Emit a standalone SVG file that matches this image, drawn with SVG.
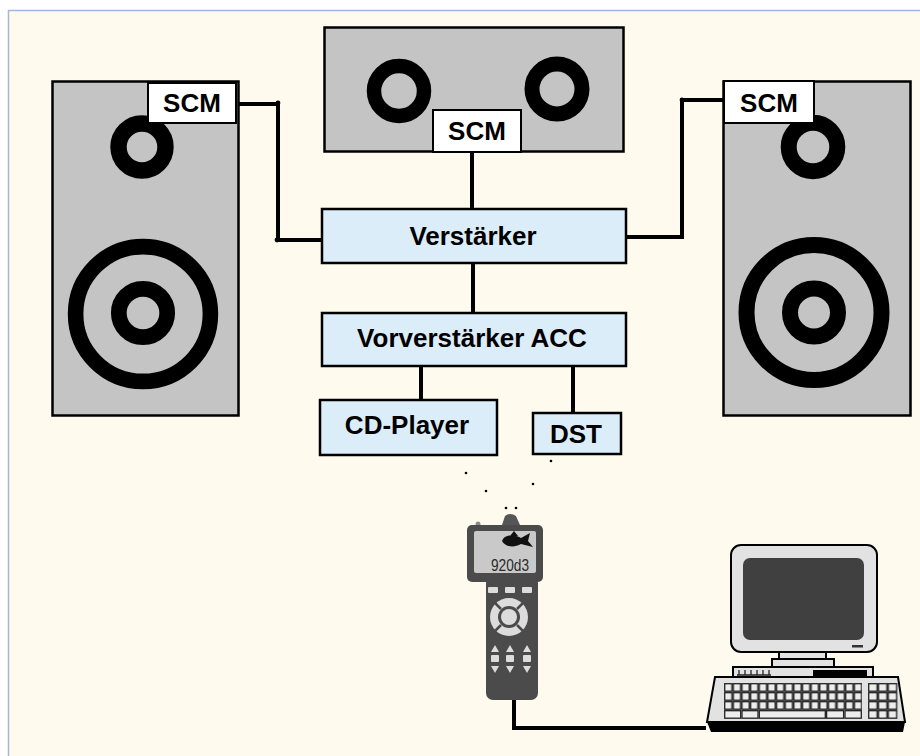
<svg xmlns="http://www.w3.org/2000/svg" width="920" height="756" viewBox="0 0 920 756">
  <defs>
    <style>
      .lbl { font-family: "Liberation Sans", Arial, sans-serif; font-weight: bold; font-size: 26px; fill: #000; text-anchor: middle; }
      .cab { fill: #c4c4c4; stroke: #000; stroke-width: 2.5; }
      .scm { fill: #fff; stroke: #000; stroke-width: 2; }
      .ring { fill: none; stroke: #000; }
      .blk { fill: #dcedfa; stroke: #000; stroke-width: 2.5; }
      .wire { fill: none; stroke: #000; stroke-width: 4; stroke-linejoin: miter; }
      .dot { fill: #000; }
      .lite { fill: #dcdcdc; }
      .pc { fill: #e2e2e2; stroke: #000; stroke-width: 2; }
    </style>
    <pattern id="keys" x="724" y="683" width="8.65" height="9" patternUnits="userSpaceOnUse">
      <rect x="0.7" y="0.7" width="7.2" height="7.5" fill="#ededed" stroke="#222" stroke-width="1.3"/>
    </pattern>
    <pattern id="numkeys" x="868" y="683" width="9.8" height="9" patternUnits="userSpaceOnUse">
      <rect x="0.7" y="0.7" width="8.4" height="7.5" fill="#ededed" stroke="#222" stroke-width="1.3"/>
    </pattern>
  </defs>

  <!-- page and frame -->
  <rect x="0" y="0" width="920" height="756" fill="#fff"/>
  <rect x="8.5" y="10.5" width="930" height="760" fill="#fefbee" stroke="#9fb9dc" stroke-width="1.5"/>

  <!-- connectors -->
  <g id="connectors">
    <polyline class="wire" points="236,104 278,104 278,240 322,240"/>
    <polyline class="wire" points="724,100 682,100 682,237 626,237"/>
    <line class="wire" x1="472" y1="152" x2="472" y2="209"/>
    <line class="wire" x1="473" y1="263" x2="473" y2="313"/>
    <line class="wire" x1="421" y1="366" x2="421" y2="400"/>
    <line class="wire" x1="573" y1="366" x2="573" y2="413"/>
    <polyline class="wire" points="514,700 514,728 706,728"/>
    <circle class="dot" cx="278" cy="103" r="2.4"/>
    <circle class="dot" cx="277" cy="240" r="2.4"/>
    <circle class="dot" cx="682" cy="100" r="2.4"/>
    <!-- infrared path -->
    <circle class="dot" cx="466" cy="473" r="1.3"/>
    <circle class="dot" cx="486" cy="491" r="1.3"/>
    <circle class="dot" cx="506" cy="508" r="1.3"/>
    <circle class="dot" cx="516" cy="508" r="1.3"/>
    <circle class="dot" cx="533" cy="484" r="1.3"/>
    <circle class="dot" cx="551" cy="461" r="1.3"/>
  </g>

  <!-- left speaker -->
  <g id="speaker-left">
    <rect class="cab" x="52.5" y="81.5" width="186" height="334"/>
    <circle class="ring" cx="142" cy="147" r="23.5" stroke-width="16.4"/>
    <circle class="ring" cx="143" cy="314" r="67.4" stroke-width="15.6"/>
    <circle class="ring" cx="143" cy="313" r="24.2" stroke-width="15.7"/>
    <rect class="scm" x="148" y="83" width="88" height="40"/>
    <text class="lbl" x="192" y="112">SCM</text>
  </g>

  <!-- centre speaker -->
  <g id="speaker-centre">
    <rect class="cab" x="324.5" y="27.5" width="299" height="124" stroke-width="5"/>
    <circle class="ring" cx="399" cy="91" r="25" stroke-width="14.5"/>
    <circle class="ring" cx="557" cy="89" r="25" stroke-width="15"/>
    <rect class="scm" x="433" y="110" width="88" height="42"/>
    <text class="lbl" x="477" y="140">SCM</text>
  </g>

  <!-- right speaker -->
  <g id="speaker-right">
    <rect class="cab" x="723.5" y="81.5" width="187" height="334"/>
    <circle class="ring" cx="813" cy="147" r="24.3" stroke-width="16"/>
    <circle class="ring" cx="814" cy="312.5" r="67.5" stroke-width="16"/>
    <circle class="ring" cx="814" cy="312.5" r="24" stroke-width="16"/>
    <rect class="scm" x="724" y="81" width="90" height="42"/>
    <text class="lbl" x="769" y="112">SCM</text>
  </g>

  <!-- signal chain -->
  <g id="verstaerker">
    <rect class="blk" x="322" y="209" width="304" height="54"/>
    <text class="lbl" x="473" y="245">Verstärker</text>
  </g>
  <g id="vorverstaerker">
    <rect class="blk" x="322" y="313" width="304" height="53"/>
    <text class="lbl" x="472" y="347">Vorverstärker ACC</text>
  </g>
  <g id="cd-player">
    <rect class="blk" x="320" y="400" width="177" height="55"/>
    <text class="lbl" x="407" y="434">CD-Player</text>
  </g>
  <g id="dst">
    <rect class="blk" x="533" y="413" width="88" height="41"/>
    <text class="lbl" x="576" y="443">DST</text>
  </g>

  <!-- hand-held remote -->
  <g id="remote">
    <circle cx="478" cy="524" r="2.5" fill="#8a8a8a"/>
    <path d="M502,525 L505,516 Q510,512 516,516 L520,525 Z" fill="#565656"/>
    <rect x="467" y="525" width="76" height="57" rx="5" fill="#4b4b4b"/>
    <rect x="486" y="576" width="52" height="124" rx="7" fill="#4b4b4b"/>
    <rect x="474" y="531" width="62" height="42" rx="2" fill="#c9c9c9"/>
    <path d="M502,541 C504,535 513,533 521,538 L530,533 L528,541 L533,547 L521,544 C514,548 505,547 502,541 Z M510,536 L514,531 L518,536 Z" fill="#111"/>
    <text x="491" y="570.5" textLength="38" lengthAdjust="spacingAndGlyphs" font-family="'Liberation Sans', sans-serif" font-size="17" fill="#2a2a2a">920d3</text>
    <rect class="lite" x="488" y="587" width="10" height="6" rx="1"/>
    <rect class="lite" x="505" y="587" width="10" height="6" rx="1"/>
    <rect class="lite" x="522" y="587" width="10" height="6" rx="1"/>
    <circle class="lite" cx="509" cy="617" r="19"/>
    <circle cx="509" cy="617" r="11" fill="#4b4b4b"/>
    <circle class="lite" cx="509" cy="617" r="8"/>
    <g stroke="#4b4b4b" stroke-width="2.5">
      <line x1="495" y1="603" x2="501" y2="609"/>
      <line x1="523" y1="603" x2="517" y2="609"/>
      <line x1="495" y1="631" x2="501" y2="625"/>
      <line x1="523" y1="631" x2="517" y2="625"/>
    </g>
    <g class="lite">
      <path d="M491,652 L495,645 L499,652 Z"/>
      <path d="M506,652 L510,645 L514,652 Z"/>
      <path d="M523,652 L527,645 L531,652 Z"/>
      <rect x="491" y="655" width="8" height="7" rx="1"/>
      <rect x="506" y="655" width="8" height="7" rx="1"/>
      <rect x="523" y="655" width="8" height="7" rx="1"/>
      <path d="M491,666 L499,666 L495,673 Z"/>
      <path d="M506,666 L514,666 L510,673 Z"/>
      <path d="M523,666 L531,666 L527,673 Z"/>
    </g>
  </g>

  <!-- desktop computer -->
  <g id="computer">
    <rect class="pc" x="731" y="545" width="146" height="107" rx="10"/>
    <rect x="743" y="558" width="121" height="82" rx="7" fill="#404040"/>
    <rect x="852" y="645" width="11" height="2.5" fill="#333"/>
    <rect class="pc" x="779" y="652" width="47" height="8" stroke-width="1.5"/>
    <rect class="pc" x="772" y="659" width="62" height="8" stroke-width="1.5"/>
    <rect class="pc" x="733" y="667" width="140" height="11" stroke-width="1.5"/>
    <g stroke="#222" stroke-width="1.3">
      <line x1="739" y1="670" x2="739" y2="675"/>
      <line x1="745" y1="670" x2="745" y2="675"/>
      <line x1="751" y1="670" x2="751" y2="675"/>
      <line x1="757" y1="670" x2="757" y2="675"/>
      <line x1="763" y1="670" x2="763" y2="675"/>
      <line x1="769" y1="670" x2="769" y2="675"/>
      <line x1="737" y1="675" x2="771" y2="675"/>
    </g>
    <rect x="813" y="670" width="54" height="7" fill="#000"/>
    <path d="M707,722 L905,722 L903,732 L711,732 Z" fill="#000"/>
    <path class="pc" d="M715,677 L898,677 L905,722 L707,722 Z"/>
    <rect x="724" y="683" width="138" height="27" fill="url(#keys)"/>
    <g fill="#ededed" stroke="#222" stroke-width="1.3">
      <rect x="724.7" y="710.7" width="16" height="7.5"/>
      <rect x="742" y="710.7" width="16" height="7.5"/>
      <rect x="759.3" y="710.7" width="66" height="7.5"/>
      <rect x="826.6" y="710.7" width="17" height="7.5"/>
      <rect x="845" y="710.7" width="16.3" height="7.5"/>
    </g>
    <rect x="868" y="683" width="29.4" height="36" fill="url(#numkeys)"/>
  </g>
</svg>
